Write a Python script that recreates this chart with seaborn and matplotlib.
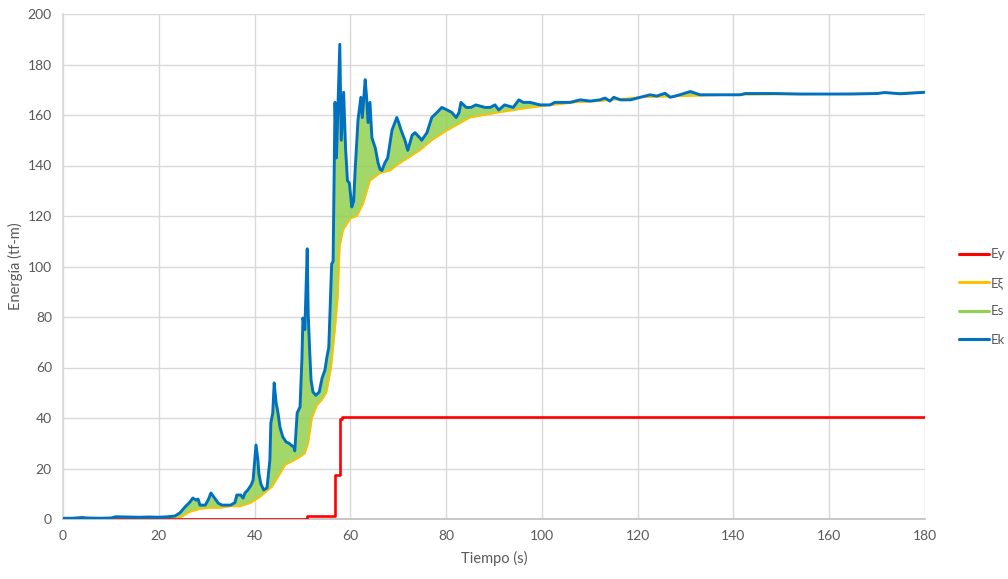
import numpy as np
import pandas as pd
import matplotlib
matplotlib.use("Agg")
import matplotlib.pyplot as plt
from matplotlib.lines import Line2D
import seaborn as sns

# Ek - energia cinetica
t_ek = [0, 2, 4, 5, 8, 10, 11, 13, 16, 18, 20, 22, 23.4, 24.4, 25.5, 26.5, 27.1, 27.8, 28.2, 28.6,
        29.7, 30.3, 30.9, 31.5, 32.4, 33.2, 35, 35.9, 36.3, 37.1, 37.6, 38.0, 38.6, 39.3, 39.7, 39.9,
        40.3, 40.7, 40.9, 41.3, 41.9, 42.6, 43.2, 43.4, 43.8, 44.1, 44.5, 44.9, 45.3, 45.9, 46.6, 47.2,
        47.6, 48.2, 48.4, 48.9, 49.5, 49.9, 50.1, 50.5, 50.8, 51.0, 51.2, 51.5, 51.8, 52.2, 52.8, 53.5,
        54.1, 54.7, 55.1, 55.5, 55.8, 56.1, 56.4, 56.8, 57.1, 57.8, 58.1, 58.6, 59.0, 59.4, 59.8, 60.3,
        60.7, 61.0, 61.6, 62.2, 62.5, 63.1, 63.4, 63.7, 64.1, 64.5, 65.2, 65.8, 66.2, 66.6, 67.2, 67.8,
        68.7, 69.7, 70.1, 70.6, 71.4, 72.0, 72.9, 73.5, 74.5, 74.9, 76.0, 77.0, 78.1, 79.1, 80.2, 81.2,
        82.1, 82.7, 83.1, 84.2, 85.2, 86.2, 88.1, 89.2, 90.2, 91.0, 92.2, 94.0, 95.2, 96.1, 97.5, 99.6,
        101.7, 102.7, 104.8, 105.9, 108.0, 110.1, 112.1, 113.2, 114.2, 115.0, 116.4, 118.5, 120.5, 122.6,
        124.0, 125.7, 126.8, 128.8, 131.0, 133.0, 141.4, 142.5, 148.7, 154, 164.4, 170, 171.6, 174.8, 180]
ek = [0.3, 0.3, 0.6, 0.4, 0.3, 0.4, 0.9, 0.8, 0.7, 0.8, 0.7, 0.9, 1.2, 2.4, 4.8, 6.7, 8.3, 7.5, 7.9, 5.5,
      5.5, 7.5, 10.3, 8.7, 6.3, 5.5, 5.5, 6.5, 9.5, 9.5, 8.3, 10.3, 11.5, 13.5, 15.4, 20,
      29.3, 23.4, 18, 14, 11.5, 12.3, 23.4, 38, 42, 53.9, 46, 42, 36.4, 32.5, 30.5, 30,
      29.3, 28.5, 27, 42, 44.4, 64, 79.6, 75, 95, 107, 81.6, 67, 55, 50.3, 49, 50.3,
      55.8, 59, 64, 68, 85, 101, 102, 165, 143, 188, 150, 169, 147, 134, 133, 123.6,
      126, 138, 158, 167, 159, 174, 167, 157, 165, 151, 147, 141, 138.5, 138, 141, 143,
      154, 159, 157, 154, 150, 146, 152, 153, 151, 150, 153, 159, 161, 163, 162, 161,
      159, 161, 165, 163, 163, 164, 163, 163, 164, 162, 164, 163, 166, 165, 165, 164,
      164, 165, 165, 165, 166, 165.5, 166, 166.7, 165.5, 167, 166, 166, 167, 168,
      167.5, 168.6, 167, 168, 169.3, 168, 168, 168.5, 168.5, 168.3, 168.3, 168.5, 168.9, 168.4, 169]

# Exi - energia de amortiguamiento
t_exi = [0, 22, 24.4, 26.5, 28.6, 30.7, 32.8, 34.9, 37, 39.1, 41.1, 42.8, 43.6, 44.9, 46.4, 48.4,
         49.5, 50.5, 51.2, 52.0, 53.0, 54.0, 55.0, 56.0, 56.8, 57.4, 57.8, 58.5, 60.0, 61.4, 62.7,
         64.1, 66.2, 68.3, 70.0, 74.5, 77.0, 80.0, 85.0, 91.0, 96, 100, 107, 112, 120, 130, 140, 160, 180]
exi = [0, 0, 0.5, 2.8, 4, 4.4, 4.4, 5, 5, 6.3, 8.7, 11.5, 12.7, 16.6, 21.4, 23.4,
       24.6, 26, 30, 40, 45, 47, 50, 60, 75, 88, 108, 114.5, 119, 120, 125,
       134, 137, 138, 140.5, 146, 150, 153.7, 159, 161, 162.5, 163.5, 165, 165.5, 167, 167.5, 168, 168.3, 169]

# Ey - energia de fluencia (escalonada)
t_ey = [0, 51.0, 51.0, 56.9, 56.9, 57.8, 57.8, 58.3, 58.3, 180]
ey = [0, 0, 1.3, 1.3, 17.4, 17.4, 39.8, 39.8, 40.3, 40.3]

c_ey, c_exi, c_es, c_ek = "#FF0000", "#FFC000", "#92D050", "#0070C0"

sns.set_theme(style="whitegrid")
plt.rcParams["font.family"] = ["Lato", "DejaVu Sans"]

fig = plt.figure(figsize=(10.08, 5.79), dpi=100)
ax = fig.add_axes([63 / 1008, 1 - 519 / 579, (925 - 63) / 1008, (519 - 14) / 579])

# Es: banda entre Exi y Ek
tt = np.union1d(t_ek, t_exi)
lo = np.interp(tt, t_exi, exi)
hi = np.interp(tt, t_ek, ek)
ax.fill_between(tt, np.minimum(lo, hi), hi, color=c_es, alpha=0.85, lw=0, zorder=2)

sns.lineplot(x=t_exi, y=exi, ax=ax, color=c_exi, lw=1.3, sort=False, zorder=2.5, estimator=None)
sns.lineplot(x=t_ey, y=ey, ax=ax, color=c_ey, lw=1.9, sort=False, zorder=2.7, estimator=None)
sns.lineplot(x=t_ek, y=ek, ax=ax, color=c_ek, lw=2.1, sort=False, zorder=3, estimator=None)

ax.set_xlim(0, 180)
ax.set_ylim(0, 200)
ax.set_xticks(range(0, 181, 20))
ax.set_yticks(range(0, 201, 20))
ax.grid(True, color="#D9D9D9", lw=1)
for s in ["top", "right"]:
    ax.spines[s].set_visible(False)
ax.spines["left"].set_color("#D9D9D9")
ax.spines["bottom"].set_color("#BFBFBF")
ax.tick_params(axis="both", length=0, labelsize=10, colors="#595959", pad=8)
ax.set_xlabel("Tiempo (s)", fontsize=10.5, color="#595959", labelpad=6)
ax.set_ylabel("Energía (tf-m)", fontsize=10.5, color="#595959", labelpad=3)

handles = [Line2D([], [], color=c_ey, lw=2.2), Line2D([], [], color=c_exi, lw=2.2),
           Line2D([], [], color=c_es, lw=2.2), Line2D([], [], color=c_ek, lw=2.2)]
fig.legend(handles, ["Ey", "Eξ", "Es", "Ek"], loc="center left", bbox_to_anchor=(0.951, 0.487),
           frameon=False, fontsize=9.5, handlelength=2.3, handletextpad=0.15, labelspacing=1.25,
           labelcolor="#595959", borderaxespad=0, borderpad=0)

fig.savefig("out.png", dpi=100)
